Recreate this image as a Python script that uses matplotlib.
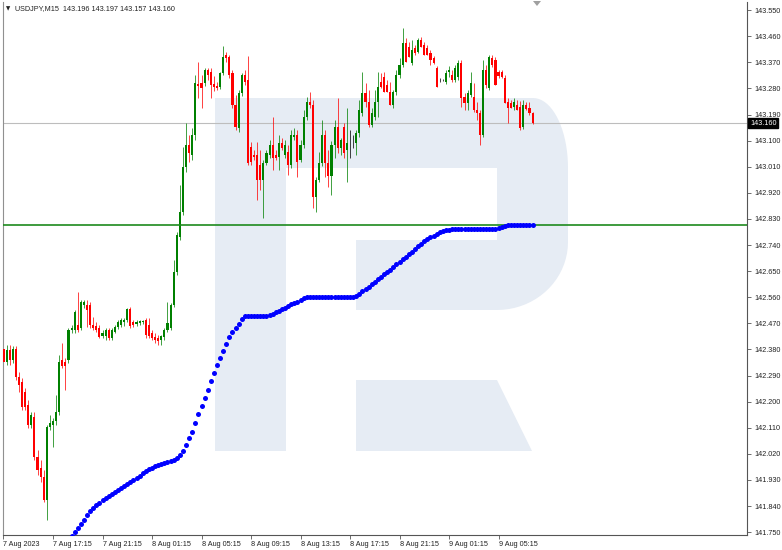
import matplotlib.pyplot as plt
import matplotlib.transforms as mtransforms
from matplotlib.patches import Polygon
import numpy as np

# USDJPY M15 candles, first bar 7 Aug 2023 13:15
opens = [142.381, 142.336, 142.378, 142.343, 142.381, 142.285, 142.267, 142.233, 142.188, 142.119,
         142.147, 142.009, 141.971, 141.940, 141.860, 142.112, 142.119, 142.133, 142.164, 142.343,
         142.336, 142.343, 142.447, 142.447, 142.464, 142.453, 142.533, 142.533, 142.533, 142.464,
         142.460, 142.453, 142.426, 142.426, 142.447, 142.419, 142.440, 142.457, 142.464, 142.474,
         142.481, 142.519, 142.474, 142.467, 142.471, 142.474, 142.481, 142.464, 142.436, 142.422,
         142.419, 142.412, 142.422, 142.447, 142.453, 142.533, 142.647, 142.767, 142.853, 143.009,
         143.084, 143.050, 143.119, 143.295, 143.298, 143.298, 143.343, 143.336, 143.295, 143.288,
         143.284, 143.333, 143.395, 143.388, 143.333, 143.222, 143.143, 143.264, 143.326, 143.309,
         143.078, 143.050, 143.050, 143.015, 142.964, 143.022, 143.050, 143.084, 143.050, 143.043,
         143.091, 143.050, 143.060, 143.015, 143.112, 143.119, 143.033, 143.084, 143.181, 143.233,
         143.222, 142.905, 142.964, 143.022, 143.119, 143.022, 142.978, 143.084, 143.147, 143.074,
         143.147, 143.067, 143.098, 143.095, 143.091, 143.126, 143.195, 143.264, 143.233, 143.153,
         143.181, 143.233, 143.302, 143.319, 143.291, 143.267, 143.222, 143.267, 143.326, 143.360,
         143.436, 143.422, 143.367, 143.419, 143.405, 143.447, 143.429, 143.419, 143.402, 143.384,
         143.350, 143.309, 143.309, 143.302, 143.336, 143.326, 143.309, 143.319, 143.367, 143.250,
         143.229, 143.257, 143.250, 143.205, 143.195, 143.119, 143.343, 143.281, 143.384, 143.378,
         143.336, 143.336, 143.316, 143.233, 143.229, 143.215, 143.222, 143.215, 143.147, 143.222,
         143.212, 143.196]
highs = [142.447, 142.395, 142.395, 142.391, 142.391, 142.302, 142.281, 142.247, 142.205, 142.164,
         142.164, 142.033, 141.998, 141.964, 142.119, 142.154, 142.143, 142.222, 142.360, 142.402,
         142.350, 142.453, 142.464, 142.516, 142.578, 142.550, 142.550, 142.550, 142.543, 142.491,
         142.474, 142.464, 142.447, 142.453, 142.453, 142.453, 142.464, 142.481, 142.488, 142.488,
         142.522, 142.526, 142.481, 142.481, 142.481, 142.481, 142.488, 142.488, 142.447, 142.436,
         142.429, 142.429, 142.453, 142.543, 142.540, 142.688, 142.784, 142.947, 143.078, 143.160,
         143.119, 143.143, 143.326, 143.371, 143.326, 143.350, 143.350, 143.350, 143.322, 143.302,
         143.336, 143.426, 143.405, 143.395, 143.343, 143.257, 143.274, 143.333, 143.343, 143.391,
         143.095, 143.067, 143.095, 143.067, 143.033, 143.067, 143.102, 143.181, 143.067, 143.119,
         143.109, 143.102, 143.084, 143.136, 143.143, 143.136, 143.102, 143.205, 143.250, 143.267,
         143.240, 142.974, 143.060, 143.171, 143.136, 143.067, 143.098, 143.171, 143.247, 143.109,
         143.160, 143.212, 143.136, 143.119, 143.136, 143.240, 143.336, 143.298, 143.274, 143.212,
         143.274, 143.336, 143.333, 143.336, 143.309, 143.302, 143.274, 143.343, 143.384, 143.488,
         143.453, 143.440, 143.447, 143.429, 143.453, 143.457, 143.440, 143.429, 143.412, 143.391,
         143.357, 143.316, 143.312, 143.343, 143.357, 143.343, 143.360, 143.378, 143.378, 143.264,
         143.274, 143.336, 143.298, 143.233, 143.205, 143.378, 143.360, 143.395, 143.395, 143.388,
         143.343, 143.343, 143.326, 143.247, 143.240, 143.247, 143.240, 143.236, 143.240, 143.233,
         143.233, 143.197]
lows = [142.326, 142.326, 142.326, 142.333, 142.274, 142.233, 142.171, 142.171, 142.109, 142.109,
        141.998, 141.947, 141.922, 141.853, 141.791, 142.102, 142.043, 142.119, 142.154, 142.316,
        142.240, 142.333, 142.436, 142.436, 142.440, 142.447, 142.522, 142.457, 142.453, 142.447,
        142.440, 142.419, 142.419, 142.412, 142.412, 142.412, 142.436, 142.450, 142.457, 142.460,
        142.474, 142.453, 142.457, 142.460, 142.464, 142.467, 142.419, 142.419, 142.412, 142.402,
        142.395, 142.395, 142.412, 142.440, 142.447, 142.526, 142.636, 142.757, 142.843, 142.991,
        143.026, 143.033, 143.102, 143.247, 143.212, 143.288, 143.309, 143.247, 143.271, 143.274,
        143.278, 143.326, 143.371, 143.316, 143.212, 143.136, 143.129, 143.253, 143.291, 143.015,
        143.015, 143.033, 142.895, 142.929, 142.833, 143.015, 143.040, 142.998, 143.033, 142.998,
        143.067, 143.040, 142.981, 143.005, 143.102, 142.974, 143.026, 143.074, 143.171, 143.212,
        142.867, 142.853, 142.957, 143.012, 142.974, 142.940, 142.912, 143.040, 143.057, 143.050,
        143.040, 142.957, 143.040, 143.074, 143.050, 143.112, 143.184, 143.215, 143.147, 143.147,
        143.171, 143.181, 143.281, 143.267, 143.267, 143.222, 143.212, 143.257, 143.316, 143.353,
        143.371, 143.388, 143.360, 143.395, 143.402, 143.422, 143.395, 143.395, 143.360, 143.364,
        143.284, 143.302, 143.305, 143.295, 143.319, 143.302, 143.302, 143.309, 143.215, 143.205,
        143.205, 143.250, 143.198, 143.171, 143.084, 143.112, 143.281, 143.274, 143.353, 143.291,
        143.316, 143.316, 143.229, 143.160, 143.212, 143.205, 143.205, 143.136, 143.140, 143.205,
        143.188, 143.157]
closes = [142.336, 142.378, 142.343, 142.381, 142.285, 142.257, 142.181, 142.181, 142.119, 142.154,
          142.009, 141.964, 141.940, 141.860, 142.112, 142.126, 142.133, 142.164, 142.336, 142.322,
          142.322, 142.447, 142.453, 142.509, 142.447, 142.543, 142.543, 142.516, 142.464, 142.453,
          142.447, 142.422, 142.436, 142.447, 142.419, 142.447, 142.457, 142.474, 142.481, 142.481,
          142.519, 142.460, 142.464, 142.474, 142.478, 142.478, 142.429, 142.426, 142.419, 142.412,
          142.409, 142.426, 142.447, 142.471, 142.533, 142.647, 142.774, 142.853, 143.009, 143.084,
          143.057, 143.119, 143.298, 143.288, 143.281, 143.343, 143.326, 143.291, 143.284, 143.281,
          143.333, 143.388, 143.384, 143.326, 143.222, 143.147, 143.264, 143.326, 143.302, 143.022,
          143.026, 143.043, 142.964, 142.964, 143.022, 143.057, 143.084, 143.040, 143.040, 143.091,
          143.074, 143.084, 143.015, 143.119, 143.119, 143.026, 143.084, 143.181, 143.233, 143.222,
          142.905, 142.964, 143.022, 143.119, 143.022, 142.978, 143.084, 143.147, 143.074, 143.102,
          143.057, 143.091, 143.098, 143.095, 143.126, 143.205, 143.264, 143.233, 143.153, 143.195,
          143.233, 143.284, 143.284, 143.267, 143.267, 143.222, 143.267, 143.326, 143.360, 143.436,
          143.371, 143.388, 143.412, 143.402, 143.447, 143.422, 143.395, 143.395, 143.378, 143.367,
          143.284, 143.309, 143.309, 143.333, 143.343, 143.309, 143.350, 143.367, 143.247, 143.229,
          143.264, 143.298, 143.205, 143.195, 143.119, 143.343, 143.291, 143.388, 143.360, 143.291,
          143.322, 143.319, 143.229, 143.212, 143.212, 143.233, 143.205, 143.143, 143.222, 143.209,
          143.195, 143.160]

# blue dotted indicator, starts at bar 22
dots_start = 22
dots = [141.738, 141.750, 141.764, 141.778, 141.791, 141.809, 141.822, 141.833, 141.843, 141.850,
        141.860, 141.867, 141.874, 141.881, 141.888, 141.895, 141.902, 141.909, 141.916, 141.922,
        141.929, 141.936, 141.943, 141.953, 141.960, 141.967, 141.971, 141.978, 141.981, 141.984,
        141.988, 141.991, 141.995, 141.998, 142.005, 142.016, 142.029, 142.050, 142.074, 142.095,
        142.126, 142.157, 142.184, 142.212, 142.240, 142.271, 142.298, 142.326, 142.350, 142.374,
        142.398, 142.422, 142.440, 142.453, 142.467, 142.484,
        142.495, 142.495, 142.495, 142.495, 142.495, 142.495, 142.495, 142.495,
        142.498, 142.502, 142.509, 142.512, 142.519, 142.523, 142.529, 142.536, 142.540, 142.543,
        142.550, 142.557,
        142.560, 142.560, 142.560, 142.560, 142.560, 142.560, 142.560, 142.560,
        142.560, 142.560, 142.560, 142.560, 142.560, 142.560, 142.560, 142.560,
        142.564, 142.571, 142.581, 142.588, 142.595, 142.605, 142.612, 142.622, 142.629, 142.640,
        142.647, 142.653, 142.664, 142.674, 142.681, 142.691, 142.698, 142.709, 142.716, 142.726,
        142.736, 142.743, 142.753, 142.760, 142.767, 142.771, 142.778, 142.784, 142.788, 142.791,
        142.791,
        142.795, 142.795, 142.795, 142.795, 142.795, 142.795, 142.795, 142.795,
        142.795, 142.795, 142.795, 142.795, 142.795, 142.795, 142.795,
        142.798, 142.802, 142.805,
        142.809, 142.809, 142.809, 142.809, 142.809, 142.809, 142.809, 142.809, 142.809]

green_level = 142.808
last_price = 143.160

y_ticks = [141.750, 141.840, 141.930, 142.020, 142.110, 142.200, 142.290, 142.380, 142.470,
           142.560, 142.650, 142.740, 142.830, 142.920, 143.010, 143.100, 143.190, 143.280,
           143.370, 143.460, 143.550]
x_tick_bars = [0, 16, 32, 48, 64, 80, 96, 112, 128, 144, 160]
x_tick_labels = ["7 Aug 2023", "7 Aug 17:15", "7 Aug 21:15", "8 Aug 01:15", "8 Aug 05:15",
                 "8 Aug 09:15", "8 Aug 13:15", "8 Aug 17:15", "8 Aug 21:15", "9 Aug 01:15",
                 "9 Aug 05:15"]

W, H = 782, 550
font = "Liberation Sans"
fs = 5.2

fig = plt.figure(figsize=(W / 100, H / 100), dpi=100)
ax = fig.add_axes([3 / W, 15 / H, 744 / W, 533 / H])
ax.set_xlim(-0.16, 240.3)
ax.set_ylim(141.740, 143.578)


def px(points):
    # pixel coords (y down) -> figure fraction
    return [(x / W, 1 - y / H) for x, y in points]


# watermark logo
wm = "#E6ECF4"
stem = Polygon(px([(215, 98), (286, 98), (286, 451), (215, 451)]),
               closed=True, transform=fig.transFigure, color=wm, lw=0, zorder=0)
t1 = np.linspace(np.pi / 2, 0, 20)
t2 = np.linspace(0, -np.pi / 2, 20)
bowl = [(286, 98), (533, 98)]
bowl += [(533 + 35 * np.cos(t), 168 - 70 * np.sin(t)) for t in t1]
bowl += [(568, 242)]
bowl += [(497 + 71 * np.cos(t), 242 - 68 * np.sin(t)) for t in t2]
bowl += [(356, 310), (356, 240), (497, 240), (497, 168), (286, 168)]
bowl_patch = Polygon(px(bowl), closed=True, transform=fig.transFigure, color=wm, lw=0, zorder=0)
leg = Polygon(px([(356, 380), (497, 380), (532, 451), (356, 451)]),
              closed=True, transform=fig.transFigure, color=wm, lw=0, zorder=0)
for p in (stem, bowl_patch, leg):
    ax.add_patch(p)

# horizontal lines
ax.axhline(last_price, color="#BDBDBD", lw=0.8, zorder=1)
ax.axhline(green_level, color="#1E8A1E", lw=1.2, zorder=4)

# candles
idx = np.arange(len(opens))
o = np.array(opens)
c = np.array(closes)
colors = np.where(c > o, "#008000", np.where(c < o, "#FF0000", "#000000"))
ax.vlines(idx, lows, highs, colors=colors, lw=0.7, alpha=0.75, zorder=2)
bottoms = np.minimum(o, c)
heights = np.maximum(np.abs(c - o), 0.0015)
ax.bar(idx, heights, bottom=bottoms, width=0.68, color=colors, lw=0, zorder=3)

# blue dots
dot_x = np.arange(dots_start, dots_start + len(dots))
ax.plot(dot_x, dots, "o", color="#0000FF", markersize=3.6, markeredgewidth=0, zorder=5)

# axes styling
for s in ax.spines.values():
    s.set_color("#555555")
    s.set_linewidth(0.8)
ax.spines["top"].set_visible(False)
ax.spines["left"].set_color("#909090")
ax.yaxis.tick_right()
ax.set_yticks(y_ticks)
ax.set_yticklabels(["%.3f" % v for v in y_ticks], fontsize=fs, family=font, color="#222222")
ax.tick_params(axis="y", direction="out", length=3, pad=2, width=0.6, color="#555555")
ax.set_xticks(x_tick_bars)
ax.set_xticklabels(x_tick_labels, fontsize=fs, family=font, color="#222222", ha="left")
ax.tick_params(axis="x", direction="out", length=3, pad=1.5, width=0.6, color="#555555")

# price box on the right axis
trans = mtransforms.blended_transform_factory(ax.transAxes, ax.transData)
ax.text(1.004, last_price, "%.3f" % last_price, transform=trans, fontsize=fs, family=font,
        color="white", va="center", ha="left",
        bbox=dict(facecolor="black", edgecolor="black", pad=1.2))

# header
fig.text(6 / W, 1 - 9 / H, "\u25bc", fontsize=4, family="DejaVu Sans", va="center", color="#222222")
fig.text(15 / W, 1 - 9 / H, "USDJPY,M15  143.196 143.197 143.157 143.160",
         fontsize=fs, family=font, va="center", color="#222222")

# chart shift marker
fig.patches.append(Polygon(px([(533, 1), (541, 1), (537, 6)]), closed=True,
                           transform=fig.transFigure, color="#A0A0A0", lw=0))

fig.savefig("out.png", dpi=100)
